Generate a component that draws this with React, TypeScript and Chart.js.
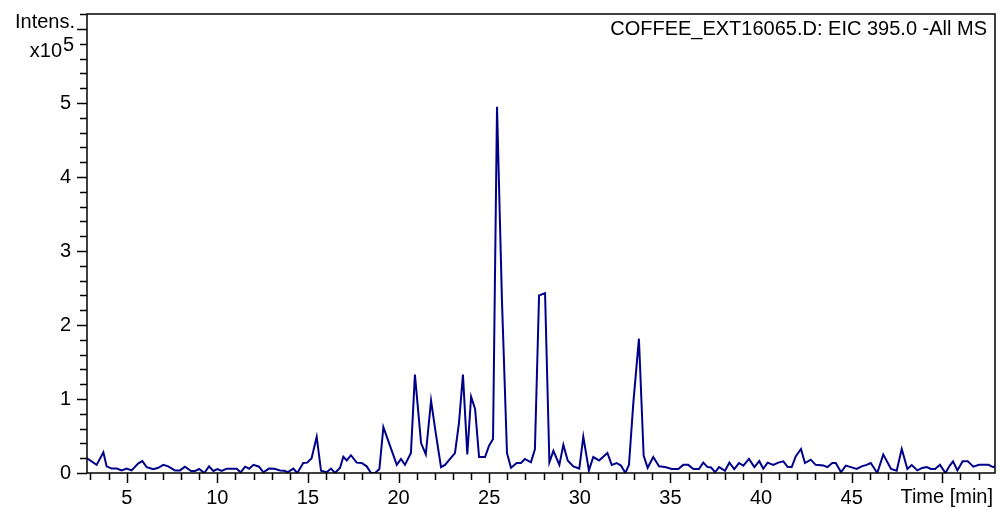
import { useEffect, useRef } from "react";
import { Chart, registerables } from "chart.js";

Chart.register(...registerables);

// Extracted ion chromatogram, EIC 395.0 (retention time in minutes)
const retentionTimes = [
  2.79, 3.34, 3.71, 3.89, 4.17, 4.45, 4.72, 5.0, 5.27, 5.64, 5.86, 6.1, 6.47, 6.74, 7.02, 7.29,
  7.66, 7.94, 8.21, 8.55, 8.77, 9.0, 9.28, 9.54, 9.78, 10.0, 10.24, 10.52, 11.07, 11.29, 11.53,
  11.76, 11.99, 12.3, 12.54, 12.85, 13.15, 13.46, 13.7, 13.88, 14.19, 14.41, 14.74, 14.96, 15.2,
  15.48, 15.72, 16.03, 16.27, 16.49, 16.77, 16.95, 17.14, 17.37, 17.69, 17.96, 18.24, 18.48,
  18.7, 18.94, 19.16, 19.9, 20.13, 20.35, 20.68, 20.9, 21.24, 21.5, 21.79, 22.05, 22.34, 22.56,
  22.84, 23.11, 23.33, 23.55, 23.79, 24.0, 24.22, 24.44, 24.77, 24.99, 25.21, 25.43, 25.7,
  25.98, 26.2, 26.52, 26.75, 26.97, 27.3, 27.52, 27.75, 28.08, 28.32, 28.54, 28.87, 29.09,
  29.33, 29.64, 29.97, 30.19, 30.5, 30.74, 31.06, 31.52, 31.76, 32.03, 32.27, 32.51, 32.71,
  32.95, 33.26, 33.52, 33.74, 34.05, 34.37, 34.7, 35.07, 35.43, 35.71, 35.98, 36.26, 36.57,
  36.81, 37.05, 37.24, 37.46, 37.68, 38.01, 38.25, 38.52, 38.78, 39.02, 39.33, 39.63, 39.9,
  40.12, 40.36, 40.67, 40.95, 41.23, 41.47, 41.69, 41.91, 42.2, 42.42, 42.74, 43.01, 43.44,
  43.66, 43.93, 44.12, 44.41, 44.67, 44.96, 45.27, 45.55, 45.82, 46.05, 46.41, 46.74, 47.17,
  47.48, 47.76, 48.07, 48.31, 48.62, 48.89, 49.14, 49.37, 49.6, 49.87, 50.17, 50.41, 50.59,
  50.83, 51.12, 51.4, 51.71, 52.02, 52.54, 52.81, 53.03,
];

// Intensity in units of 10^5 counts
const intensities = [
  0.2, 0.11, 0.28, 0.09, 0.06, 0.06, 0.035, 0.06, 0.035, 0.13, 0.16, 0.08, 0.05, 0.07, 0.11, 0.09,
  0.035, 0.035, 0.085, 0.027, 0.027, 0.054, 0.0, 0.09, 0.027, 0.054, 0.027, 0.058, 0.058, 0.008, 0.085,
  0.058, 0.11, 0.085, 0.01, 0.06, 0.058, 0.035, 0.03, 0.01, 0.06, 0.0, 0.135, 0.14, 0.2,
  0.49, 0.03, 0.01, 0.06, 0.0, 0.07, 0.22, 0.17, 0.24, 0.14, 0.135, 0.09, 0.0,
  0.0, 0.054, 0.62, 0.11, 0.19, 0.11, 0.27, 1.33, 0.405, 0.25, 0.98, 0.54, 0.08, 0.11,
  0.19, 0.27, 0.675, 1.33, 0.25, 1.03, 0.865, 0.216, 0.216, 0.37, 0.46, 4.95, 2.35,
  0.27, 0.07, 0.135, 0.135, 0.19, 0.145, 0.32, 2.4, 2.43, 0.145, 0.3, 0.11, 0.38,
  0.17, 0.09, 0.06, 0.49, 0.035, 0.216, 0.17, 0.27, 0.11, 0.135, 0.1, 0.0, 0.11,
  0.945, 1.815, 0.234, 0.07, 0.216, 0.09, 0.08, 0.054, 0.054, 0.11, 0.11, 0.054, 0.054,
  0.14, 0.08, 0.075, 0.01, 0.08, 0.03, 0.14, 0.054, 0.135, 0.1, 0.19, 0.08, 0.16,
  0.058, 0.14, 0.11, 0.14, 0.157, 0.08, 0.08, 0.225, 0.324, 0.135, 0.18, 0.11, 0.1,
  0.08, 0.135, 0.135, 0.01, 0.1, 0.08, 0.054, 0.09, 0.11, 0.135, 0.0, 0.25, 0.054,
  0.03, 0.324, 0.054, 0.108, 0.035, 0.068, 0.08, 0.054, 0.054, 0.11, 0.0, 0.1, 0.157,
  0.035, 0.16, 0.16, 0.085, 0.11, 0.11, 0.08, 0.11,
];

// Axis ranges and tick layout
const timeRange = [2.808, 52.905];
const intensityRange = [0, 6.203];
const timeLabelEvery = 5;
const lastTimeLabel = 45;
const intensityLabels = [0, 1, 2, 3, 4, 5];
const intensityMinorStep = 0.2;

const traceTitle = "COFFEE_EXT16065.D: EIC 395.0 -All MS";
const timeAxisTitle = "Time [min]";
const intensityAxisTitle = "Intens.";
const intensityFactorBase = "x10";
const intensityFactorExp = "5";

const FONT = "'Liberation Sans', Arial, sans-serif";
const TRACE_COLOR = "#00008B";

// Frame, tick marks and the header / axis captions
const framePlugin = {
  id: "frameAndCaptions",
  afterDatasetsDraw(chart: any) {
    const { ctx, chartArea: a, scales } = chart;
    const xs = scales.x;
    const ys = scales.y;
    ctx.save();
    ctx.strokeStyle = "#000";
    ctx.lineWidth = 1.5;
    ctx.strokeRect(a.left, a.top, a.right - a.left, a.bottom - a.top);

    ctx.beginPath();
    for (let t = Math.ceil(xs.min); t <= xs.max; t++) {
      const px = Math.round(xs.getPixelForValue(t)) + 0.5;
      const len = t % timeLabelEvery === 0 ? 10 : 7;
      ctx.moveTo(px, a.bottom);
      ctx.lineTo(px, a.bottom + len);
    }
    const steps = Math.floor(ys.max / intensityMinorStep + 1e-6);
    for (let i = 0; i <= steps; i++) {
      const v = i * intensityMinorStep;
      const py = Math.round(ys.getPixelForValue(v)) + 0.5;
      const len = i % 5 === 0 ? 10 : 7;
      ctx.moveTo(a.left, py);
      ctx.lineTo(a.left - len, py);
    }
    ctx.stroke();

    ctx.fillStyle = "#000";
    ctx.font = `20px ${FONT}`;
    ctx.textBaseline = "middle";
    ctx.textAlign = "right";
    ctx.fillText(traceTitle, a.right - 8, a.top + 15);
    ctx.fillText(timeAxisTitle, a.right - 2, a.bottom + 24);
    ctx.fillText(intensityAxisTitle, 75, 22);
    ctx.fillText(intensityFactorExp, 74, 45);
    ctx.fillText(intensityFactorBase, 62, 51);
    ctx.restore();
  },
};

export default function App() {
  const canvasRef = useRef<HTMLCanvasElement | null>(null);

  useEffect(() => {
    if (!canvasRef.current) return;
    const points = retentionTimes.map((t, i) => ({ x: t, y: intensities[i] }));
    const chart = new Chart(canvasRef.current, {
      type: "line",
      data: {
        datasets: [
          {
            data: points,
            borderColor: TRACE_COLOR,
            borderWidth: 2,
            pointRadius: 0,
            tension: 0,
            fill: false,
          },
        ],
      },
      options: {
        animation: false,
        responsive: false,
        maintainAspectRatio: false,
        layout: { padding: { top: 14, right: 5, left: 0, bottom: 0 } },
        plugins: { legend: { display: false }, tooltip: { enabled: false } },
        scales: {
          x: {
            type: "linear",
            min: timeRange[0],
            max: timeRange[1],
            grid: { display: false, drawTicks: false },
            border: { display: false },
            ticks: {
              stepSize: 1,
              autoSkip: false,
              maxRotation: 0,
              includeBounds: false,
              padding: 13,
              color: "#000",
              font: { family: FONT, size: 20 },
              callback: (v: any) =>
                Number(v) % timeLabelEvery === 0 && Number(v) <= lastTimeLabel ? String(v) : "",
            },
            afterFit: (s: any) => {
              s.height = 37;
              s.paddingLeft = 0;
              s.paddingRight = 0;
            },
          },
          y: {
            type: "linear",
            min: intensityRange[0],
            max: intensityRange[1],
            grid: { display: false, drawTicks: false },
            border: { display: false },
            ticks: {
              stepSize: 1,
              autoSkip: false,
              includeBounds: false,
              padding: 16,
              color: "#000",
              font: { family: FONT, size: 20 },
              callback: (v: any) => (intensityLabels.includes(Number(v)) ? String(v) : ""),
            },
            afterFit: (s: any) => {
              s.width = 87;
              s.paddingTop = 0;
              s.paddingBottom = 0;
            },
          },
        },
      },
      plugins: [framePlugin],
    });
    return () => chart.destroy();
  }, []);

  return (
    <div style={{ position: "absolute", left: 0, top: 0, width: 1000, height: 510, background: "#fff" }}>
      <canvas ref={canvasRef} width={1000} height={510} style={{ display: "block" }} />
    </div>
  );
}
